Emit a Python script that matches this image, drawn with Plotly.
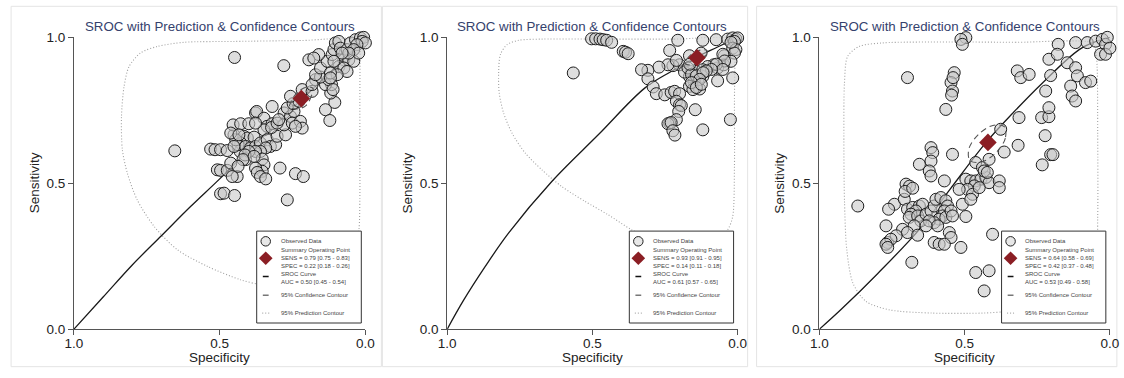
import plotly.graph_objects as go

# Figure size; the photographed area includes the page body's 8px margin and is scaled
# back to 1124x378, so layout positions are mapped from target-pixels accordingly.
W, H = 1124, 378
OFF = 8
SX = (W + 2 * OFF) / W
SY = (H + 2 * OFF) / H

def fx(px):  # target pixel x -> paper fraction
    return (px * SX - OFF) / W

def fy(py):  # target pixel y (from top) -> paper fraction
    return (H - (py * SY - OFF)) / H

TITLE = "SROC with Prediction & Confidence Contours"
TICK_VALS = [1.0, 0.5, 0.0]
TICK_TEXT = ["1.0", "0.5", "0.0"]

# ---------------- Panel 1 ----------------
spec1 = [0.449,0.28,0.654,0.268,0.24,0.213,0.293,0.497,0.485,0.449,0.137,0.122,0.105,0.119,0.116,
         0.531,0.516,0.497,0.474,0.43,0.508,0.497,0.474,0.462,0.44,0.411,0.451,0.454,0.428,0.40,0.377,0.373,
         0.348,0.32,0.337,0.32,0.348,0.417,0.405,0.382,0.428,0.437,0.411,0.394,0.377,0.36,0.337,0.326,0.308,
         0.303,0.274,0.342,0.36,0.377,0.40,0.354,0.348,0.354,0.377,0.371,0.36,0.342,0.413,0.322,0.279,0.279,
         0.257,0.245,0.251,0.223,0.217,0.24,0.268,0.248,0.228,0.257,0.217,0.183,0.171,0.183,0.137,0.126,0.154,
         0.171,0.154,0.131,0.16,0.194,0.177,0.114,0.108,0.103,0.091,0.086,0.074,0.057,0.04,0.091,0.074,0.063,
         0.097,0.108,0.063,0.051,0.034,0.017,0.006,0.011,0.0,0.029,0.04,0.023,0.057,0.08,0.12,0.12,0.111,
         0.445,0.451,0.462,0.434,0.457,0.42,0.437,0.382,0.303,0.297,0.377]
sens1 = [0.931,0.903,0.611,0.443,0.533,0.523,0.552,0.464,0.466,0.458,0.752,0.715,0.777,0.809,0.838,
         0.617,0.615,0.615,0.612,0.609,0.546,0.544,0.544,0.569,0.523,0.581,0.666,0.70,0.704,0.704,0.741,0.746,
         0.723,0.763,0.695,0.704,0.683,0.661,0.655,0.658,0.638,0.632,0.626,0.621,0.626,0.638,0.649,0.626,0.632,
         0.661,0.666,0.621,0.609,0.609,0.609,0.583,0.563,0.541,0.552,0.537,0.523,0.515,0.597,0.691,0.70,0.741,
         0.729,0.746,0.706,0.712,0.689,0.695,0.758,0.773,0.781,0.798,0.821,0.815,0.855,0.838,0.838,0.855,0.864,
         0.872,0.895,0.918,0.941,0.923,0.929,0.941,0.958,0.981,0.986,0.963,0.923,0.923,0.918,0.90,0.895,0.883,
         0.872,0.918,0.958,0.981,0.992,0.998,1.0,0.986,0.981,0.975,0.958,0.946,0.946,0.946,0.878,0.861,0.821,
         0.649,0.626,0.672,0.666,0.523,0.581,0.558,0.592,0.706,0.718,0.706]
curve_spec1 = [1.0,0.9,0.8,0.7,0.6,0.5,0.4,0.3,0.2,0.1,0.0]
curve_sens1 = [0.0,0.11,0.22,0.32,0.42,0.515,0.615,0.71,0.805,0.9,1.0]
pred_spec1 = [0.017,0.223,0.451,0.622,0.713,0.771,0.811,0.828,0.837,0.834,0.817,0.783,0.725,0.645,0.542,
              0.428,0.36,0.28,0.17,0.075,0.035,0.022,0.019,0.019,0.019,0.018,0.017]
pred_sens1 = [0.99,0.989,0.986,0.983,0.969,0.947,0.90,0.832,0.729,0.615,0.535,0.443,0.352,0.272,0.215,
              0.169,0.152,0.14,0.145,0.19,0.26,0.34,0.45,0.6,0.8,0.95,0.99]
conf_spec1 = [0.18,0.185,0.205,0.235,0.26,0.255,0.235,0.2,0.18]
conf_sens1 = [0.825,0.80,0.765,0.755,0.76,0.78,0.81,0.83,0.825]
sum_spec1, sum_sens1 = 0.22, 0.79
legend1 = ["Observed Data",
           "Summary Operating Point<br>SENS = 0.79 [0.75 - 0.83]<br>SPEC = 0.22 [0.18 - 0.26]",
           "SROC Curve<br>AUC = 0.50 [0.45 - 0.54]",
           "95% Confidence Contour",
           "95% Prediction Contour"]

# ---------------- Panel 2 ----------------
spec2 = [0.503,0.489,0.474,0.463,0.451,0.434,0.394,0.386,0.377,0.566,0.206,0.12,0.074,0.034,0.017,0.006,0.0,
         0.011,0.017,0.006,0.011,0.023,0.234,0.166,0.126,0.046,0.069,0.048,0.023,0.082,0.103,0.017,0.025,0.12,
         0.146,0.069,0.12,0.137,0.149,0.166,0.16,0.143,0.12,0.166,0.143,0.131,0.154,0.2,0.223,0.24,0.271,0.309,
         0.331,0.309,0.291,0.28,0.251,0.229,0.217,0.2,0.211,0.2,0.194,0.203,0.211,0.234,0.24,0.229,0.223,0.183,
         0.171,0.211,0.051,0.045,0.073,0.051,0.09,0.108,0.159,0.142,0.119,0.131,0.159,0.142,0.125,0.216,0.165]
sens2 = [0.995,0.995,0.994,0.992,0.99,0.983,0.952,0.949,0.944,0.878,0.99,0.99,0.992,0.994,0.998,0.994,0.998,
         0.986,0.963,0.958,0.946,0.983,0.955,0.937,0.946,0.937,0.895,0.906,0.918,0.906,0.90,0.861,0.718,0.683,
         0.752,0.851,0.866,0.855,0.846,0.866,0.883,0.883,0.889,0.832,0.83,0.823,0.821,0.906,0.903,0.906,0.898,0.887,
         0.889,0.858,0.83,0.807,0.803,0.811,0.815,0.807,0.781,0.769,0.766,0.746,0.718,0.706,0.704,0.708,0.68,0.881,
         0.895,0.921,0.942,0.919,0.908,0.89,0.89,0.885,0.873,0.868,0.879,0.856,0.845,0.828,0.839,0.665,0.908]
curve_spec2 = [1.0,0.943,0.869,0.789,0.64,0.48,0.32,0.229,0.141,0.069,0.0]
curve_sens2 = [0.0,0.10,0.215,0.329,0.506,0.666,0.826,0.883,0.933,0.967,1.0]
pred_spec2 = [0.009,0.217,0.446,0.674,0.754,0.794,0.817,0.823,0.821,0.806,0.777,0.731,0.674,0.606,0.526,
              0.446,0.366,0.274,0.16,0.069,0.034,0.017,0.011,0.011,0.009,0.009]
pred_sens2 = [0.994,0.994,0.994,0.994,0.99,0.975,0.941,0.878,0.809,0.741,0.672,0.603,0.546,0.489,0.438,
              0.392,0.341,0.295,0.283,0.306,0.341,0.386,0.558,0.786,0.958,0.994]
conf_spec2 = [0.105,0.11,0.13,0.16,0.18,0.175,0.155,0.125,0.105]
conf_sens2 = [0.955,0.94,0.915,0.905,0.91,0.925,0.945,0.957,0.955]
sum_spec2, sum_sens2 = 0.14, 0.93
legend2 = ["Observed Data",
           "Summary Operating Point<br>SENS = 0.93 [0.91 - 0.95]<br>SPEC = 0.14 [0.11 - 0.18]",
           "SROC Curve<br>AUC = 0.61 [0.57 - 0.65]",
           "95% Confidence Contour",
           "95% Prediction Contour"]

# ---------------- Panel 3 ----------------
spec3 = [0.496,0.513,0.508,0.697,0.536,0.547,0.542,0.545,0.565,0.54,0.319,0.307,0.278,0.204,0.21,0.178,0.181,
         0.147,0.118,0.112,0.084,0.066,0.135,0.13,0.118,0.221,0.235,0.21,0.21,0.223,0.313,0.316,0.376,0.118,0.078,
         0.049,0.026,0.015,0.032,0.015,0.009,0.0,0.204,0.196,0.233,0.364,
         0.868,0.771,0.765,0.682,0.702,0.69,0.656,0.616,0.61,0.616,0.622,0.616,0.542,0.57,
         0.496,0.479,0.462,0.444,0.427,0.416,0.467,0.49,0.519,0.473,0.45,0.508,0.496,0.479,
         0.381,0.381,0.462,0.439,0.433,0.422,0.416,0.404,0.462,0.416,0.433,
         0.742,0.708,0.697,0.679,0.656,0.645,0.668,0.685,0.691,0.662,0.651,0.674,0.633,0.616,0.605,0.599,0.582,
         0.565,0.559,0.57,0.576,0.588,0.605,0.622,0.593,0.565,0.547,0.542,0.553,0.547,0.605,0.588,0.57,0.513,
         0.633,0.714,0.697,0.662,0.736,0.754,0.771,0.765,0.762,0.705,0.679]
sens3 = [0.999,0.993,0.976,0.862,0.879,0.845,0.816,0.802,0.753,0.862,0.885,0.862,0.873,0.869,0.925,0.976,0.942,
         0.913,0.896,0.868,0.845,0.85,0.833,0.799,0.782,0.816,0.725,0.728,0.759,0.663,0.725,0.63,0.685,0.982,0.982,
         0.987,0.993,0.976,0.942,0.942,1.0,0.963,0.598,0.598,0.563,0.607,
         0.422,0.354,0.297,0.229,0.497,0.49,0.565,0.622,0.605,0.576,0.542,0.525,0.599,0.508,
         0.514,0.508,0.508,0.514,0.52,0.502,0.491,0.479,0.479,0.462,0.485,0.428,0.386,0.445,
         0.508,0.485,0.571,0.554,0.542,0.537,0.582,0.325,0.194,0.2,0.131,
         0.428,0.445,0.411,0.417,0.422,0.428,0.405,0.394,0.383,0.388,0.371,0.354,0.394,0.405,0.422,0.445,0.451,
         0.44,0.422,0.405,0.388,0.377,0.365,0.371,0.354,0.383,0.405,0.388,0.331,0.314,0.297,0.291,0.291,0.28,
         0.354,0.342,0.331,0.322,0.32,0.308,0.291,0.28,0.411,0.472,0.483]
curve_spec3 = [1.0,0.925,0.8,0.656,0.55,0.427,0.33,0.233,0.107,0.05,0.0]
curve_sens3 = [0.0,0.068,0.19,0.342,0.48,0.639,0.745,0.843,0.957,0.985,1.0]
pred_spec3 = [0.061,0.324,0.553,0.782,0.863,0.903,0.914,0.916,0.914,0.906,0.885,0.84,0.759,0.611,0.439,
              0.347,0.21,0.095,0.049,0.042,0.042,0.044,0.049,0.061]
pred_sens3 = [0.981,0.983,0.984,0.981,0.969,0.935,0.843,0.672,0.443,0.272,0.158,0.095,0.066,0.055,0.055,
              0.061,0.078,0.123,0.215,0.386,0.672,0.901,0.958,0.981]
conf_spec3 = [0.364,0.360,0.392,0.442,0.481,0.486,0.454,0.403,0.364]
conf_sens3 = [0.694,0.655,0.605,0.573,0.577,0.616,0.666,0.698,0.694]
sum_spec3, sum_sens3 = 0.42, 0.64
legend3 = ["Observed Data",
           "Summary Operating Point<br>SENS = 0.64 [0.58 - 0.69]<br>SPEC = 0.42 [0.37 - 0.48]",
           "SROC Curve<br>AUC = 0.53 [0.49 - 0.58]",
           "95% Confidence Contour",
           "95% Prediction Contour"]

panels = [
    dict(spec=spec1, sens=sens1, cs=curve_spec1, cn=curve_sens1, ps=pred_spec1, pn=pred_sens1,
         fs=conf_spec1, fn=conf_sens1, ss=sum_spec1, sn=sum_sens1, leg=legend1, dom=[73, 365]),
    dict(spec=spec2, sens=sens2, cs=curve_spec2, cn=curve_sens2, ps=pred_spec2, pn=pred_sens2,
         fs=conf_spec2, fn=conf_sens2, ss=sum_spec2, sn=sum_sens2, leg=legend2, dom=[447, 738]),
    dict(spec=spec3, sens=sens3, cs=curve_spec3, cn=curve_sens3, ps=pred_spec3, pn=pred_sens3,
         fs=conf_spec3, fn=conf_sens3, ss=sum_spec3, sn=sum_sens3, leg=legend3, dom=[820, 1111]),
]
frames = [[10, 381], [382, 748], [757, 1118]]

Y_TOP, Y_BOT = 38, 329.5
ydom = [fy(Y_BOT), fy(Y_TOP)]

FONT = "Liberation Sans, Arial, Helvetica, sans-serif"
DARK_RED = "#8b1e24"

fig = go.Figure()
annotations = []
shapes = []
layout_axes = {}

# legend geometry, in axis data units (x axis is reversed: 1 -> 0)
LBOX_X = [0.373, 0.014]
LBOX_Y = [0.021, 0.336]
LSYM_X = 0.342
LTXT_X = 0.298
LROWS_Y = [0.301, 0.243, 0.176, 0.116, 0.055]

for i, p in enumerate(panels):
    sfx = "" if i == 0 else str(i + 1)
    xa, ya = "x" + sfx, "y" + sfx
    common = dict(xaxis=xa, yaxis=ya, hoverinfo="skip", showlegend=False)
    # prediction contour
    fig.add_trace(go.Scatter(x=p["ps"], y=p["pn"], mode="lines",
                             line=dict(color="#a0a0a0", width=1.1, dash="1px,2px", shape="spline", smoothing=0.8),
                             **common))
    # SROC curve
    fig.add_trace(go.Scatter(x=p["cs"], y=p["cn"], mode="lines",
                             line=dict(color="#1a1a1a", width=1.3, shape="spline", smoothing=1.0), **common))
    # observed data
    fig.add_trace(go.Scatter(x=p["spec"], y=p["sens"], mode="markers", cliponaxis=False,
                             marker=dict(symbol="circle", size=12, color="rgba(200,200,200,0.6)",
                                         line=dict(color="#1e1e1e", width=1)), **common))
    # confidence contour
    fig.add_trace(go.Scatter(x=p["fs"], y=p["fn"], mode="lines",
                             line=dict(color="#555555", width=1.1, dash="6px,4px", shape="spline", smoothing=1.0),
                             **common))
    # summary point
    fig.add_trace(go.Scatter(x=[p["ss"]], y=[p["sn"]], mode="markers", cliponaxis=False,
                             marker=dict(symbol="diamond", size=13.5, color=DARK_RED), **common))
    # legend box
    fig.add_trace(go.Scatter(x=[LBOX_X[0], LBOX_X[1], LBOX_X[1], LBOX_X[0], LBOX_X[0]],
                             y=[LBOX_Y[0], LBOX_Y[0], LBOX_Y[1], LBOX_Y[1], LBOX_Y[0]],
                             mode="lines", fill="toself", fillcolor="white",
                             line=dict(color="#333333", width=1), **common))
    # legend symbols
    fig.add_trace(go.Scatter(x=[LSYM_X], y=[LROWS_Y[0]], mode="markers",
                             marker=dict(symbol="circle", size=9.5, color="rgba(215,215,215,0.6)",
                                         line=dict(color="#222", width=1)), **common))
    fig.add_trace(go.Scatter(x=[LSYM_X], y=[LROWS_Y[1]], mode="markers",
                             marker=dict(symbol="diamond", size=10.5, color=DARK_RED), **common))
    fig.add_trace(go.Scatter(x=[LSYM_X + 0.01, LSYM_X - 0.01], y=[LROWS_Y[2] + 0.004] * 2, mode="lines",
                             line=dict(color="#111", width=1.5), **common))
    fig.add_trace(go.Scatter(x=[LSYM_X + 0.01, LSYM_X - 0.01], y=[LROWS_Y[3]] * 2, mode="lines",
                             line=dict(color="#777", width=1.5), **common))
    fig.add_trace(go.Scatter(x=[LSYM_X + 0.012, LSYM_X - 0.012], y=[LROWS_Y[4]] * 2, mode="lines",
                             line=dict(color="#aaa", width=1.1, dash="1px,2px"), **common))
    for txt, yy in zip(p["leg"], LROWS_Y):
        annotations.append(dict(xref=xa, yref=ya, x=LTXT_X, y=yy, text=txt, showarrow=False,
                                xanchor="left", yanchor="middle", align="left",
                                font=dict(size=6.0, color="#444", family=FONT)))

    d0, d1 = p["dom"]
    xdom = [fx(d0), fx(d1)]
    axis_common = dict(tickvals=TICK_VALS, ticktext=TICK_TEXT,
                       ticks="outside", ticklen=5, tickwidth=1, tickcolor="#555",
                       showline=True, linecolor="#555", linewidth=1, showgrid=False, zeroline=False,
                       tickfont=dict(size=13.5, color="#222", family=FONT), fixedrange=True)
    xcfg = dict(axis_common)
    xcfg.update(domain=xdom, anchor=ya, range=[1, 0], ticklabelstandoff=-3)
    ycfg = dict(axis_common)
    ycfg.update(domain=ydom, anchor=xa, range=[0, 1])
    layout_axes["xaxis" + sfx] = xcfg
    layout_axes["yaxis" + sfx] = ycfg

    cx = (xdom[0] + xdom[1]) / 2
    annotations.append(dict(xref="paper", yref="paper", x=cx, y=fy(27), text=TITLE,
                            showarrow=False, xanchor="center", yanchor="middle",
                            font=dict(size=13.3, color="#34416d", family=FONT)))
    annotations.append(dict(xref="paper", yref="paper", x=cx, y=fy(358), text="Specificity",
                            showarrow=False, xanchor="center", yanchor="middle",
                            font=dict(size=13.5, color="#222", family=FONT)))
    annotations.append(dict(xref="paper", yref="paper", x=fx(d0 - 40), y=(ydom[0] + ydom[1]) / 2,
                            text="Sensitivity", textangle=-90, showarrow=False,
                            xanchor="center", yanchor="middle",
                            font=dict(size=13.5, color="#222", family=FONT)))
    f0, f1 = frames[i]
    shapes.append(dict(type="rect", xref="paper", yref="paper", x0=fx(f0), x1=fx(f1),
                       y0=fy(367), y1=fy(7), line=dict(color="#e4e4e4", width=1),
                       layer="below"))

fig.update_layout(width=W, height=H, margin=dict(l=0, r=0, t=0, b=0),
                  paper_bgcolor="white", plot_bgcolor="white", showlegend=False,
                  font=dict(family=FONT), annotations=annotations, shapes=shapes, **layout_axes)

fig.write_html("out.html")
